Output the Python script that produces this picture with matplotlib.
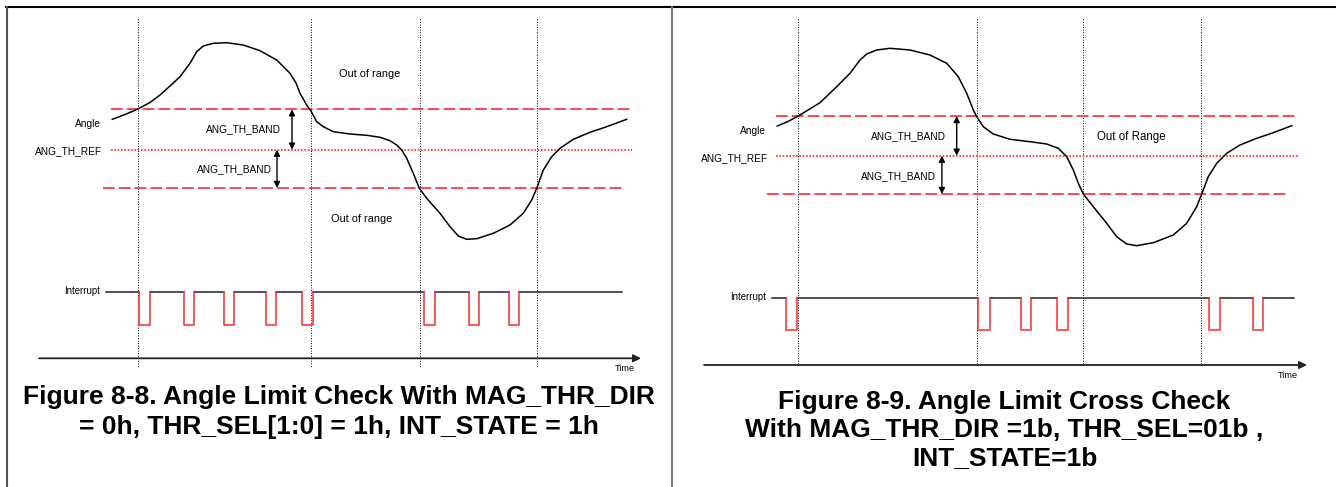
import numpy as np
import matplotlib.pyplot as plt

plt.rcParams['font.family'] = ['Liberation Sans', 'DejaVu Sans']

# ---- left panel (Figure 8-8) ----
left_curve_x = [112.3, 125, 137.3, 150, 160, 170, 180, 190, 196.7, 203.3, 213.3, 226.7, 243.3, 260, 276.7, 290,
                296, 300, 306.7, 311, 316.7, 323.3, 333.3, 350, 366.7, 380, 390, 396.7, 401.7, 406.7, 413.3,
                419.3, 426.7, 440, 450, 458.3, 466.7, 476.7, 493.3, 510, 523.3, 531.7, 536.7, 543.3, 551.7,
                560, 573.3, 590, 606.7, 626.7]
left_curve_y = [119.3, 114.5, 109.3, 102.5, 95, 86, 76.7, 63.3, 51.7, 46, 43.3, 42.7, 45, 50.7, 60, 73.3,
                83, 93.3, 105, 111, 121.7, 126.7, 131.7, 134, 135.3, 137.3, 140.7, 145, 150, 158.3, 173.3,
                188.3, 198.3, 213.3, 226.7, 236, 239.3, 238.7, 233.3, 225, 213.3, 200, 188.3, 170, 156.7,
                148.3, 139.3, 132.3, 126.7, 119.3]
left_vlines = [137.6, 311, 419.7, 536.8]
left_levels = [109.3, 149.7, 188]          # upper band, reference, lower band
left_fall = [139.3, 183.8, 224, 265.8, 302, 424, 468.8, 508.5]
left_rise = [149.6, 193.6, 234, 275.6, 312.8, 434.6, 478.6, 519]

# ---- right panel (Figure 8-9) ----
right_curve_x = [777.3, 788, 798.3, 820, 836.7, 850, 860, 866.7, 876.7, 890, 910, 930, 946.7, 958.3, 966.7,
                 973.3, 976.7, 983.3, 993.3, 1010, 1030, 1046.7, 1058.3, 1066.7, 1073.3, 1078.3, 1083.3,
                 1093.3, 1106.7, 1116.7, 1126.7, 1136.7, 1153.3, 1173.3, 1186.7, 1196.7, 1201.7, 1208.3,
                 1216.7, 1226.7, 1240, 1256.7, 1273.3, 1291.7]
right_curve_y = [126, 121.5, 116, 102.7, 86.7, 73.3, 60, 54, 50, 48.3, 50, 55, 63.3, 76.7, 93.3,
                 110, 116.7, 126.7, 134, 139.3, 141.7, 144, 148.3, 156.7, 170, 183.3, 194,
                 206.7, 223.3, 236.7, 244, 245.7, 242.7, 235, 223.3, 206.7, 194, 176.7,
                 163.3, 153.3, 145, 138.3, 132.7, 125.7]
right_vlines = [798.3, 976.7, 1083.3, 1201.4]
right_levels = [116, 155.7, 194]
right_fall = [786.4, 978, 1021, 1057.4, 1208.7, 1252.8]
right_rise = [797.4, 989.5, 1031, 1067.6, 1219.7, 1263]

caption_left = ['Figure 8-8. Angle Limit Check With MAG_THR_DIR',
                '= 0h, THR_SEL[1:0] = 1h, INT_STATE = 1h']
caption_right = ['Figure 8-9. Angle Limit Cross Check',
                 'With MAG_THR_DIR =1b, THR_SEL=01b ,',
                 'INT_STATE=1b']

RED = '#ff2a2a'
dot_black = (0, (1, 1.6))
dash_red = (0, (7, 2.5))
dot_red = (0, (1, 1))

fig = plt.figure(figsize=(13.36, 4.87), dpi=100)
ax = fig.add_axes([0, 0, 1, 1])
ax.set_xlim(0, 1336)
ax.set_ylim(487, 0)
ax.axis('off')

# frame
ax.plot([6, 1336], [7, 7], color='black', lw=1.5)
ax.plot([7, 7], [7, 487], color='#555555', lw=1.5)
ax.plot([672, 672], [7, 487], color='#777777', lw=1.5)


def panel(cx, cy, vlines, levels, fall, rise, p):
    # vertical markers
    for x in vlines:
        ax.plot([x, x], [19, p['vbot']], color='black', lw=0.7, ls=dot_black)
    # thresholds
    ax.plot(p['up_x'], [levels[0]] * 2, color=RED, lw=1.2, ls=dash_red)
    ax.plot(p['up_x'], [levels[1]] * 2, color=RED, lw=1.2, ls=dot_red)
    ax.plot(p['lo_x'], [levels[2]] * 2, color=RED, lw=1.2, ls=dash_red)
    # angle curve
    ax.plot(cx, cy, color='black', lw=1.1, solid_joinstyle='round')
    # band arrows
    for ax_x, y0, y1 in [(p['arr1'], levels[0], levels[1]), (p['arr2'], levels[1], levels[2])]:
        ax.annotate('', xy=(ax_x, y0), xytext=(ax_x, y1),
                    arrowprops=dict(arrowstyle='<|-|>', color='black', lw=1.0,
                                    mutation_scale=9, shrinkA=0, shrinkB=0))
    # interrupt line
    hi, lo = p['hi'], p['lo']
    starts = [p['int_x'][0]] + list(rise)
    ends = list(fall) + [p['int_x'][1]]
    for s, e in zip(starts, ends):
        ax.plot([s, e], [hi, hi], color='#222222', lw=1.1)
    for f, r in zip(fall, rise):
        ax.plot([f, f, r, r], [hi, lo, lo, hi], color=RED, lw=1.1)
    # time axis
    ax.annotate('', xy=(p['time_x'][1], p['time_y']), xytext=(p['time_x'][0], p['time_y']),
                arrowprops=dict(arrowstyle='-|>', color='#222222', lw=1.3,
                                mutation_scale=11, shrinkA=0, shrinkB=0))


panel(left_curve_x, left_curve_y, left_vlines, left_levels, left_fall, left_rise,
      dict(vbot=367, up_x=[111, 632], lo_x=[102.6, 623], arr1=292, arr2=277,
           hi=291.7, lo=325, int_x=[106, 622], time_x=[39, 641], time_y=358.3))
panel(right_curve_x, right_curve_y, right_vlines, right_levels, right_fall, right_rise,
      dict(vbot=365, up_x=[776, 1298], lo_x=[767, 1288], arr1=956.7, arr2=941.9,
           hi=297.7, lo=330.3, int_x=[772, 1293.6], time_x=[704, 1307], time_y=365))

# labels, left
fs = 7.3
ax.text(370, 74, 'Out of range', fontsize=7.9, ha='center', va='center')
ax.text(361.7, 219, 'Out of range', fontsize=7.9, ha='center', va='center')
ax.text(101, 124, 'Angle', fontsize=fs, ha='right', va='center')
ax.text(102.5, 151, 'ANG_TH_REF', fontsize=fs, ha='right', va='center')
ax.text(243, 129, 'ANG_TH_BAND', fontsize=fs, ha='center', va='center')
ax.text(234, 169, 'ANG_TH_BAND', fontsize=fs, ha='center', va='center')
ax.text(100, 291, 'Interrupt', fontsize=6.9, ha='right', va='center')
ax.text(625, 368.5, 'Time', fontsize=6.6, ha='center', va='center')

# labels, right
ax.text(1131.7, 136.7, 'Out of Range', fontsize=8.3, ha='center', va='center')
ax.text(766, 130.7, 'Angle', fontsize=fs, ha='right', va='center')
ax.text(768.6, 157.7, 'ANG_TH_REF', fontsize=fs, ha='right', va='center')
ax.text(908.7, 136, 'ANG_TH_BAND', fontsize=fs, ha='center', va='center')
ax.text(898.5, 175.7, 'ANG_TH_BAND', fontsize=fs, ha='center', va='center')
ax.text(765.6, 296.7, 'Interrupt', fontsize=6.9, ha='right', va='center')
ax.text(1288, 375, 'Time', fontsize=6.6, ha='center', va='center')

# captions
for i, line in enumerate(caption_left):
    ax.text(339, 396.7 + i * 30, line, fontsize=19, fontweight='bold', ha='center', va='center')
for i, line in enumerate(caption_right):
    ax.text(1004.5, 401.7 + i * 28.3, line, fontsize=19, fontweight='bold', ha='center', va='center')

fig.savefig('out.png', dpi=100)
